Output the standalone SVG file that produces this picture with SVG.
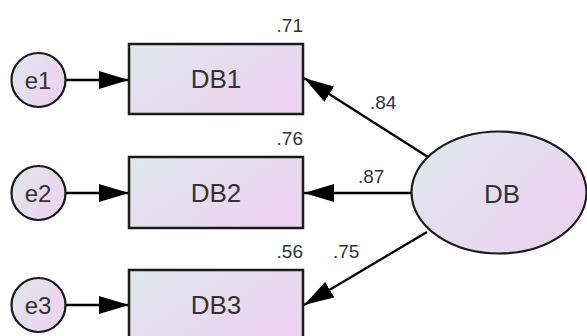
<svg xmlns="http://www.w3.org/2000/svg" width="587" height="336" viewBox="0 0 587 336">
<defs>
<linearGradient id="g" x1="0" y1="0" x2="1" y2="0.6">
<stop offset="0" stop-color="#dfe8ec"/>
<stop offset="1" stop-color="#ecd3f1"/>
</linearGradient>
<marker id="ah" markerUnits="userSpaceOnUse" markerWidth="30" markerHeight="18" refX="30" refY="9" orient="auto" viewBox="0 0 30 18">
<path d="M0,0 L30,9 L0,18 z" fill="#000"/>
</marker>
<style>
.n{fill:url(#g);stroke:#1a1a1a;stroke-width:2.5}
.c{fill:url(#g);stroke:#1a1a1a;stroke-width:2.2}
.t{font-family:"Liberation Sans",Arial,sans-serif;font-size:26px;fill:#333;text-anchor:middle}
.e{font-family:"Liberation Sans",Arial,sans-serif;font-size:24px;fill:#333;text-anchor:middle}
.l{font-family:"Liberation Sans",Arial,sans-serif;font-size:19px;fill:#333}
.a{stroke:#000;stroke-width:2.3;fill:none;marker-end:url(#ah)}
</style>
</defs>
<g id="connectors">
<line class="a" x1="66" y1="80" x2="129" y2="80"/>
<line class="a" x1="66" y1="193" x2="129" y2="193"/>
<line class="a" x1="66" y1="305" x2="129" y2="305"/>
<line class="a" x1="428" y1="157" x2="304" y2="78"/>
<line class="a" x1="411" y1="193" x2="304" y2="193"/>
<line class="a" x1="427" y1="232" x2="304" y2="305"/>
<text class="l" x="370" y="109">.84</text>
<text class="l" x="358" y="183">.87</text>
<text class="l" x="333" y="258">.75</text>
</g>
<g id="e1"><circle class="c" cx="38.5" cy="80" r="27"/><text class="e" x="38" y="89">e1</text></g>
<g id="e2"><circle class="c" cx="38.5" cy="193" r="27"/><text class="e" x="38" y="202">e2</text></g>
<g id="e3"><circle class="c" cx="38.5" cy="305" r="27"/><text class="e" x="38" y="314">e3</text></g>
<g id="DB1"><rect class="n" x="129" y="44" width="174" height="70"/><text class="t" x="216" y="88">DB1</text><text class="l" x="303" y="32" text-anchor="end">.71</text></g>
<g id="DB2"><rect class="n" x="129" y="157" width="174" height="71"/><text class="t" x="216" y="202">DB2</text><text class="l" x="303" y="145" text-anchor="end">.76</text></g>
<g id="DB3"><rect class="n" x="129" y="270" width="174" height="70"/><text class="t" x="216" y="314">DB3</text><text class="l" x="303" y="258" text-anchor="end">.56</text></g>
<g id="DB"><ellipse class="c" cx="499" cy="192.5" rx="87.5" ry="61"/><text class="t" x="502" y="203">DB</text></g>
</svg>
